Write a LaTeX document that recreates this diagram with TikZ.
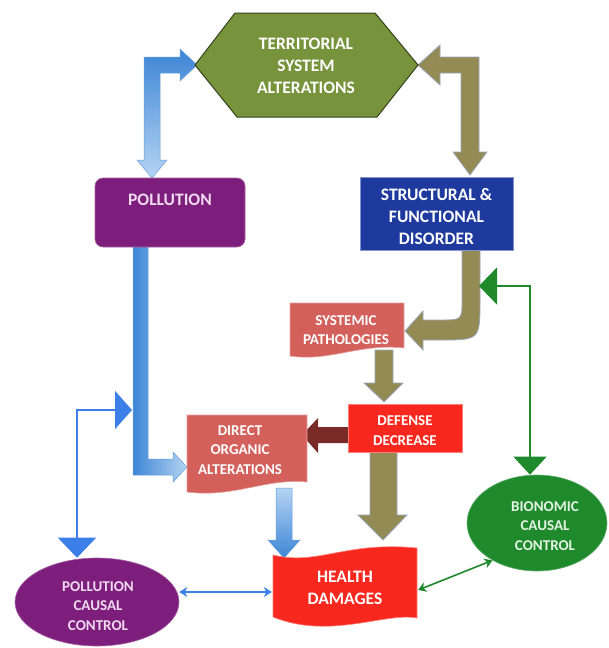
\documentclass[tikz,border=0pt]{standalone}
\usepackage{fontspec}
\setmainfont{Carlito}
\usetikzlibrary{shapes.geometric,arrows.meta,calc}
\definecolor{hexgreen}{HTML}{77933C}
\definecolor{hexborder}{HTML}{34421A}
\definecolor{khaki}{HTML}{948A54}
\definecolor{khakiedge}{HTML}{9AA8BE}
\definecolor{pollpurple}{HTML}{7E1E7C}
\definecolor{polltext}{HTML}{EFD9EF}
\definecolor{sfdblue}{HTML}{1F3A9E}
\definecolor{salmonc}{HTML}{D4605C}
\definecolor{ddred}{HTML}{F8281F}
\definecolor{brownarrow}{HTML}{7A2B28}
\definecolor{greenc}{HTML}{1E8A2C}
\definecolor{biotext}{HTML}{E3F2E3}
\definecolor{bluedark}{HTML}{3D85D6}
\definecolor{bluelight}{HTML}{B5D4F2}
\definecolor{bluethin}{HTML}{3C7FE8}
\tikzset{
  txt/.style={text=white, font=\bfseries, align=center, inner sep=0pt},
  bigfont/.style={font=\bfseries\fontsize{17.5}{22}\selectfont},
  smallfont/.style={font=\bfseries\fontsize{15}{19.5}\selectfont},
  khakiarrow/.style={fill=khaki, draw=khakiedge, line width=0.8pt},
  bluearrow/.style={draw=bluedark!80, line width=0.5pt},
  thinblue/.style={draw=bluethin, line width=2pt},
  thingreen/.style={draw=greenc, line width=1.6pt},
}
\begin{document}
\begin{tikzpicture}[x=1pt,y=-1pt]
\useasboundingbox (0,0) rectangle (608,648);
\fill[white] (0,0) rectangle (608,648);

% ---------- block arrows (drawn first) ----------
% pollution <-> territorial
\path[bluearrow, top color=bluedark, bottom color=bluelight]
  (152,178) -- (137,160) -- (144,160) -- (144,57) -- (180,57) -- (180,49)
  -- (197,65) -- (180,81) -- (180,73) -- (160,73) -- (160,160) -- (167,160) -- cycle;
% territorial <-> structural
\path[khakiarrow]
  (418,65) -- (440,45) -- (440,57) -- (479,57) -- (479,152) -- (487,152)
  -- (470,175) -- (453,152) -- (461,152) -- (461,73) -- (440,73) -- (440,85) -- cycle;
% structural -> systemic
\path[khakiarrow]
  (462,250) -- (480,250) -- (480,300) .. controls (480,340) .. (440,340)
  -- (423,340) -- (423,350) -- (405,331) -- (423,311) -- (423,320)
  -- (440,320) .. controls (462,320) .. (462,300) -- cycle;
% systemic -> defense
\path[khakiarrow]
  (375,350) -- (393,350) -- (393,383) -- (403,383) -- (384,402) -- (364,383) -- (375,383) -- cycle;
% defense -> direct
\path[fill=brownarrow]
  (348,427) -- (318,427) -- (318,418) -- (302,435) -- (318,453) -- (318,443) -- (348,443) -- cycle;
% pollution -> direct
\path[bluearrow, left color=bluedark, right color=bluelight]
  (133,247) -- (148,247) -- (148,459) -- (173,459) -- (173,452) -- (187,467)
  -- (173,482) -- (173,475) -- (133,475) -- cycle;
% direct -> health
\path[bluearrow, top color=bluelight, bottom color=bluedark]
  (276,488) -- (292,488) -- (292,540) -- (300,540) -- (284,558) -- (268,540) -- (276,540) -- cycle;
% defense -> health
\path[khakiarrow]
  (370,452) -- (397,452) -- (397,515) -- (407,515) -- (383,540) -- (358,515) -- (370,515) -- cycle;

% ---------- shapes ----------
\path[fill=hexgreen, draw=hexborder, line width=1pt]
  (195,65) -- (235,13) -- (375,13) -- (418,65) -- (377,117) -- (237,117) -- cycle;
\node[txt, bigfont, text=white] (terr) at (306,66) {TERRITORIAL\\SYSTEM\\ALTERATIONS};

\node[fill=pollpurple, draw=pollpurple!70!white, line width=0.6pt, rounded corners=8pt,
      minimum width=150, minimum height=69] (poll) at (170,212.5) {};
\node[txt, bigfont, text=polltext] (polltxt) at (170,200) {POLLUTION};

\node[fill=sfdblue, draw=sfdblue!55!white, line width=0.8pt,
      minimum width=153, minimum height=73] (sfdbox) at (436.5,213.5) {};
\node[txt, bigfont] (sfd) at (436.5,217) {STRUCTURAL \&\\FUNCTIONAL\\DISORDER};

\path[fill=salmonc, draw=salmonc!60!white, line width=0.6pt]
  (290,303) -- (404,303) -- (404,348) .. controls (360,343) and (330,362) .. (290,356) -- cycle;
\node[txt, smallfont] (sysp) at (346,330) {SYSTEMIC\\PATHOLOGIES};

\node[fill=ddred, draw=ddred!60!white, line width=0.6pt,
      minimum width=114, minimum height=48] (ddbox) at (405,428) {};
\node[txt, smallfont] (dd) at (405,430.5) {DEFENSE\\DECREASE};

\path[fill=salmonc, draw=salmonc!60!white, line width=0.6pt]
  (187,415) -- (307,415) -- (307,482) .. controls (265,478) and (235,498) .. (187,492) -- cycle;
\node[txt, smallfont] (doa) at (240,450) {DIRECT\\ORGANIC\\ALTERATIONS};

\path[fill=ddred, draw=ddred!60!white, line width=0.6pt]
  (273,555) .. controls (318,566) and (345,541) .. (417,548)
  -- (417,618) .. controls (385,612) and (330,640) .. (273,617) -- cycle;
\node[txt, bigfont, minimum width=144, minimum height=64] (hd) at (345,588) {HEALTH\\DAMAGES};

\node[ellipse, fill=pollpurple, draw=pollpurple!70!white, line width=0.6pt,
      minimum width=164, minimum height=88, inner sep=0pt] (pcc) at (97,602) {};
\node[txt, smallfont, text=polltext] (pcctxt) at (98,606) {POLLUTION\\CAUSAL\\CONTROL};

\node[ellipse, fill=greenc, draw=greenc!70!white, line width=0.6pt,
      minimum width=140, minimum height=96, inner sep=0pt] (bio) at (537,523) {};
\node[txt, smallfont, text=biotext] (biotxt) at (545,526) {BIONOMIC\\CAUSAL\\CONTROL};

% ---------- thin connectors ----------
\coordinate (shaftL) at (132,410);
\coordinate (elbowA) at (77,410);
\draw[thinblue, {Triangle[length=20pt,width=38pt]}-{Triangle[length=17pt,width=38pt]}]
  (elbowA |- pcc.north) -- (elbowA) -- (shaftL);

\coordinate (greenL) at (479,286);
\coordinate (greenE) at (530,286);
\draw[thingreen, {Triangle[length=18pt,width=37pt]}-{Triangle[length=18pt,width=33pt]}]
  (greenL) -- (greenE) -- (greenE |- bio.north);

\coordinate (hdW) at ($(hd.west)+(-1,4)$);
\draw[thinblue, {Stealth[length=8pt,width=10pt]}-{Stealth[length=8pt,width=10pt]}]
  (pcc.east |- hdW) -- (hdW);

\draw[thingreen, {Stealth[length=8pt,width=10pt]}-{Stealth[length=8pt,width=10pt]}]
  ($(hd.east)+(1,2)$) -- (bio.-140);
\end{tikzpicture}
\end{document}
